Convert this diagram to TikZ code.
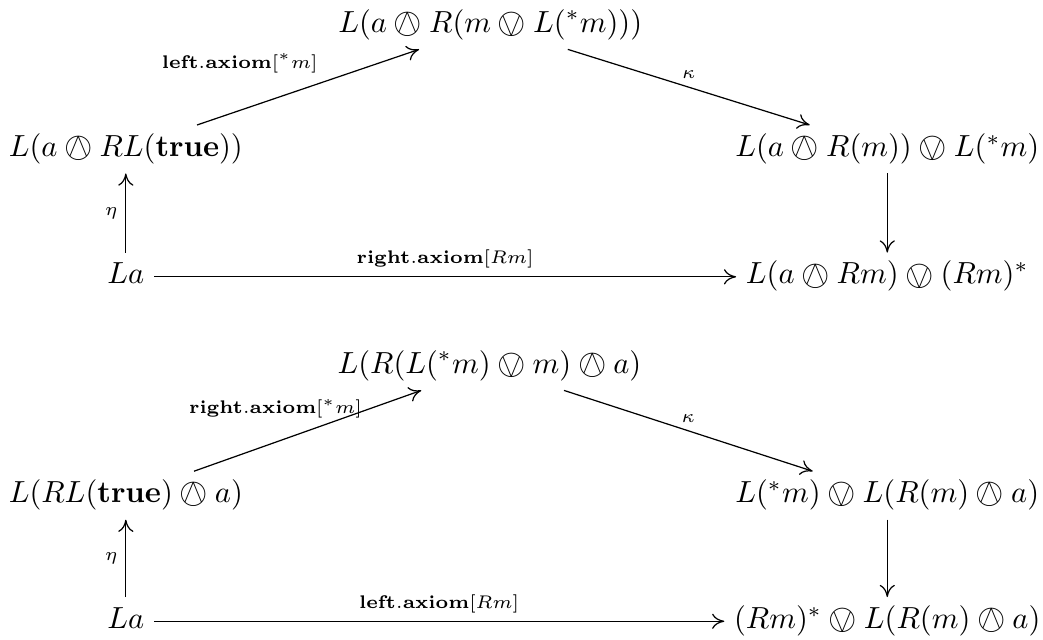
\documentclass[tikz,border=0pt]{standalone}
\usepackage{amsmath}
\usepackage{graphicx}
\usepackage{stmaryrd}
\usepackage{tikz}
\usetikzlibrary{arrows.meta}
\newcommand{\owg}{\mathbin{\smash{\vcenter{\hbox{\scalebox{1.2}{$\owedge$}}}}}}
\newcommand{\ovg}{\mathbin{\smash{\vcenter{\hbox{\scalebox{1.2}{$\ovee$}}}}}}

\begin{document}
\begin{tikzpicture}[x=1cm,y=1cm,
    obj/.style={inner sep=3pt,text height=7pt,text depth=2.5pt},
    lbl/.style={font=\fontsize{6.5}{8}\selectfont,inner sep=2.5pt},
    arr/.style={-{Computer Modern Rightarrow[length=4pt,width=5pt]}}]
  \useasboundingbox (0,0) rectangle (12.02,7.37);

  \node[obj] (top1) at (5.65,7.08) {$L(a \owg R(m \ovg L({}^*m)))$};
  \node[obj] (lft1) at (1.45,5.65) {$L(a \owg RL(\mathbf{true}))$};
  \node[obj] (rgt1) at (10.225,5.65) {$L(a \owg R(m)) \ovg L({}^*m)$};
  \node[obj] (la1) at (1.45,4.18) {$La$};
  \node[obj] (bot1) at (10.225,4.18) {$L(a \owg Rm) \ovg (Rm)^*$};
  \draw[arr] (lft1) -- node[lbl,pos=0.58,anchor=south east] {$\mathbf{left}.\mathbf{axiom}[{}^*m]$} (top1);
  \draw[arr] (top1) -- node[lbl,above] {$\kappa$} (rgt1);
  \draw[arr] (rgt1) -- (bot1);
  \draw[arr] (la1) -- node[lbl,left] {$\eta$} (lft1);
  \draw[arr] (la1) -- node[lbl,above] {$\mathbf{right}.\mathbf{axiom}[Rm]$} (bot1);

  \node[obj] (top2) at (5.64,3.15) {$L(R(L({}^*m) \ovg m) \owg a)$};
  \node[obj] (lft2) at (1.45,1.66) {$L(RL(\mathbf{true}) \owg a)$};
  \node[obj] (rgt2) at (10.225,1.66) {$L({}^*m) \ovg L(R(m) \owg a)$};
  \node[obj] (la2) at (1.45,0.21) {$La$};
  \node[obj] (bot2) at (10.225,0.21) {$(Rm)^* \ovg L(R(m) \owg a)$};
  \draw[arr] (lft2) -- node[lbl,pos=0.775,anchor=east] {$\mathbf{right}.\mathbf{axiom}[{}^*m]$} (top2);
  \draw[arr] (top2) -- node[lbl,above] {$\kappa$} (rgt2);
  \draw[arr] (rgt2) -- (bot2);
  \draw[arr] (la2) -- node[lbl,left] {$\eta$} (lft2);
  \draw[arr] (la2) -- node[lbl,above] {$\mathbf{left}.\mathbf{axiom}[Rm]$} (bot2);
\end{tikzpicture}
\end{document}
